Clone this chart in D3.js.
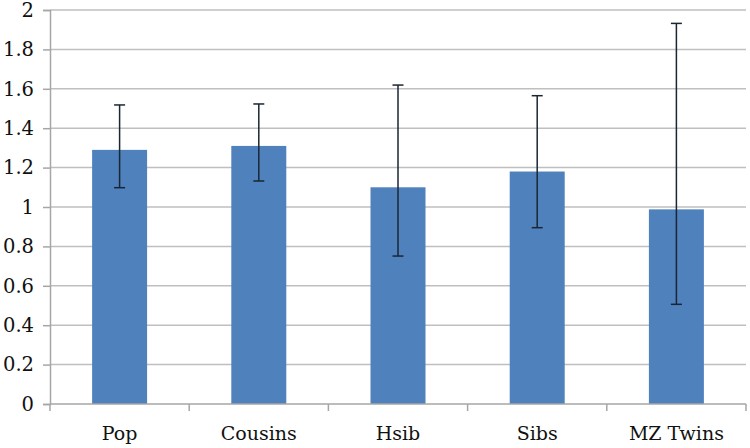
<!DOCTYPE html>
<html><head><meta charset="utf-8">
<script src="https://cdn.jsdelivr.net/npm/d3@7"></script>
<style>body{margin:0;background:#fff;} text{font-family:"DejaVu Serif","Liberation Serif",serif;}</style>
</head><body><svg id="c" width="750" height="448"></svg>
<script>
const categories = ["Pop", "Cousins", "Hsib", "Sibs", "MZ Twins"];
const values = [1.29, 1.31, 1.10, 1.18, 0.988];
const errLow = [1.098, 1.132, 0.751, 0.895, 0.506];
const errHigh = [1.518, 1.523, 1.619, 1.565, 1.932];
const yTicks = [0, 0.2, 0.4, 0.6, 0.8, 1, 1.2, 1.4, 1.6, 1.8, 2];

(function () {
const svg = d3.select("#c");
const mLeft = 50, mRight = 746, mTop = 10, mBottom = 404;
const x = d3.scaleBand().domain(categories).range([mLeft, mRight]).paddingInner(0.605).paddingOuter(0.3025);
const xt = d3.scaleBand().domain(categories).range([mLeft, mRight]);
const y = d3.scaleLinear().domain([0, 2]).range([mBottom, mTop]);

// gridlines
svg.append("g").selectAll("line").data(yTicks.filter(d => d > 0)).join("line")
  .attr("x1", mLeft).attr("x2", mRight).attr("y1", d => y(d)).attr("y2", d => y(d))
  .attr("stroke", "#bfbfbf").attr("stroke-width", 1.5);

// y axis
const yAxis = d3.axisLeft(y).tickValues(yTicks).tickSize(7).tickPadding(9).tickFormat(d => String(d));
const gy = svg.append("g").attr("transform", `translate(${mLeft},0)`).call(yAxis);
gy.select(".domain").attr("stroke", "#a6a6a6").attr("stroke-width", 1.5);
gy.selectAll(".tick line").attr("stroke", "#a6a6a6").attr("stroke-width", 1.5);
gy.selectAll("text").attr("font-size", 19.5).attr("fill", "#111").attr("font-family", "DejaVu Serif");

// bars
svg.append("g").selectAll("rect").data(categories).join("rect")
  .attr("x", d => x(d)).attr("width", x.bandwidth())
  .attr("y", (d, i) => y(values[i])).attr("height", (d, i) => y(0) - y(values[i]))
  .attr("fill", "#4f81bd");

// x axis
svg.append("line").attr("x1", mLeft).attr("x2", mRight).attr("y1", mBottom).attr("y2", mBottom)
  .attr("stroke", "#a6a6a6").attr("stroke-width", 1.5);
const bounds = categories.map(c => xt(c)).concat([mRight]);
svg.append("g").selectAll("line").data(bounds).join("line")
  .attr("x1", d => d).attr("x2", d => d).attr("y1", mBottom).attr("y2", mBottom + 7)
  .attr("stroke", "#a6a6a6").attr("stroke-width", 1.5);
svg.append("g").selectAll("text").data(categories).join("text")
  .attr("x", d => xt(d) + xt.bandwidth() / 2).attr("y", 440)
  .attr("text-anchor", "middle").attr("font-size", 19).attr("fill", "#111").text(d => d);

// error bars
const eb = svg.append("g").attr("stroke", "#1a2633").attr("stroke-width", 1.5);
categories.forEach((c, i) => {
  const cx = x(c) + x.bandwidth() / 2;
  eb.append("line").attr("x1", cx).attr("x2", cx).attr("y1", y(errLow[i])).attr("y2", y(errHigh[i]));
  eb.append("line").attr("x1", cx - 5.5).attr("x2", cx + 5.5).attr("y1", y(errLow[i])).attr("y2", y(errLow[i]));
  eb.append("line").attr("x1", cx - 5.5).attr("x2", cx + 5.5).attr("y1", y(errHigh[i])).attr("y2", y(errHigh[i]));
});
})();
</script></body></html>
